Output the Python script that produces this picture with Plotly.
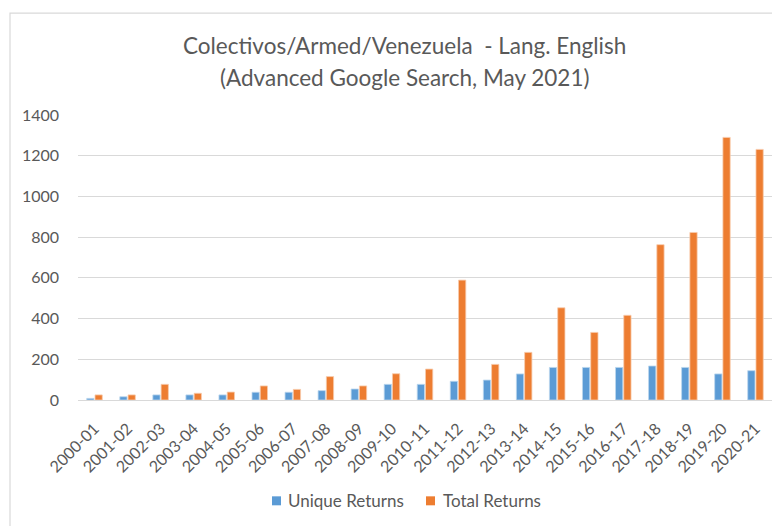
import plotly.graph_objects as go

categories = ["2000-01", "2001-02", "2002-03", "2003-04", "2004-05", "2005-06", "2006-07",
              "2007-08", "2008-09", "2009-10", "2010-11", "2011-12", "2012-13", "2013-14",
              "2014-15", "2015-16", "2016-17", "2017-18", "2018-19", "2019-20", "2020-21"]
unique_returns = [8, 16, 25, 25, 25, 38, 38, 46, 54, 77, 77, 92, 98, 128, 160, 160, 160, 167, 160, 128, 144]
total_returns = [25, 25, 77, 33, 39, 69, 52, 115, 69, 129, 152, 589, 175, 234, 453, 332, 416, 763, 823, 1290, 1231]
y_ticks = [0, 200, 400, 600, 800, 1000, 1200, 1400]
series_names = ["Unique Returns", "Total Returns"]
series_colors = ["#5B9BD5", "#ED7D31"]
title_lines = ["Colectivos/Armed/Venezuela  - Lang. English", "(Advanced Google Search, May 2021)"]

FONT = "Lato, Liberation Sans, sans-serif"
GREY = "#595959"

# page has an 8px body margin; work in screen pixels and subtract it
OFF = 8
W, H = 780 - OFF, 526 - OFF
L, R, T, B = 78 - OFF, 8, 115 - OFF, 125.5
pw = W - L - R
ph = H - T - B

def px_x(p):
    return (p - OFF - L) / pw

def px_y(p):
    return (H - B - (p - OFF)) / ph

fig = go.Figure()
fig.add_trace(go.Bar(x=categories, y=unique_returns, name=series_names[0], showlegend=False,
                     marker=dict(color=series_colors[0], line=dict(color="#BDD7EE", width=0.8))))
fig.add_trace(go.Bar(x=categories, y=total_returns, name=series_names[1], showlegend=False,
                     marker=dict(color=series_colors[1], line=dict(color="#F8CBAD", width=0.8))))

annotations = [
    dict(text=title_lines[0], x=px_x(404), y=px_y(45), xref="paper", yref="paper",
         xanchor="center", yanchor="middle", showarrow=False,
         font=dict(family=FONT, size=22.5, color=GREY)),
    dict(text=title_lines[1], x=px_x(404), y=px_y(77), xref="paper", yref="paper",
         xanchor="center", yanchor="middle", showarrow=False,
         font=dict(family=FONT, size=22.5, color=GREY)),
]
shapes = [dict(type="rect", xref="paper", yref="paper",
               x0=px_x(10), x1=px_x(800), y0=px_y(560), y1=px_y(13),
               line=dict(color="#D9D9D9", width=1.2), fillcolor="rgba(0,0,0,0)", layer="below")]

# custom legend
leg_sq = [(272, 281), (426, 435)]
leg_tx = [286, 441]
for (s0, s1), tx, nm, col in zip(leg_sq, leg_tx, series_names, series_colors):
    shapes.append(dict(type="rect", xref="paper", yref="paper",
                       x0=px_x(s0), x1=px_x(s1), y0=px_y(506), y1=px_y(497),
                       line=dict(width=0), fillcolor=col))
    annotations.append(dict(text=nm, x=px_x(tx), y=px_y(501.5), xref="paper", yref="paper",
                            xanchor="left", yanchor="middle", showarrow=False,
                            font=dict(family=FONT, size=17, color=GREY)))

fig.update_layout(
    width=W, height=H,
    margin=dict(l=L, r=R, t=T, b=B, autoexpand=False),
    paper_bgcolor="white", plot_bgcolor="white",
    font=dict(family=FONT, color=GREY, size=16),
    barmode="group", bargap=0.5, bargroupgap=0.12,
    showlegend=False,
    xaxis=dict(type="category", tickangle=-45, showgrid=False, showline=True, linecolor="#D9D9D9",
               linewidth=1.2, ticks="", automargin=False, ticklabelstandoff=12,
               tickfont=dict(family=FONT, size=16, color=GREY)),
    yaxis=dict(range=[0, 1400], tickvals=y_ticks, showgrid=True, gridcolor="#D9D9D9", gridwidth=1.2,
               zeroline=False, showline=False, ticks="", ticklabelstandoff=18, automargin=False,
               tickfont=dict(family=FONT, size=16, color=GREY)),
    annotations=annotations,
    shapes=shapes,
)

fig.write_html("out.html")
